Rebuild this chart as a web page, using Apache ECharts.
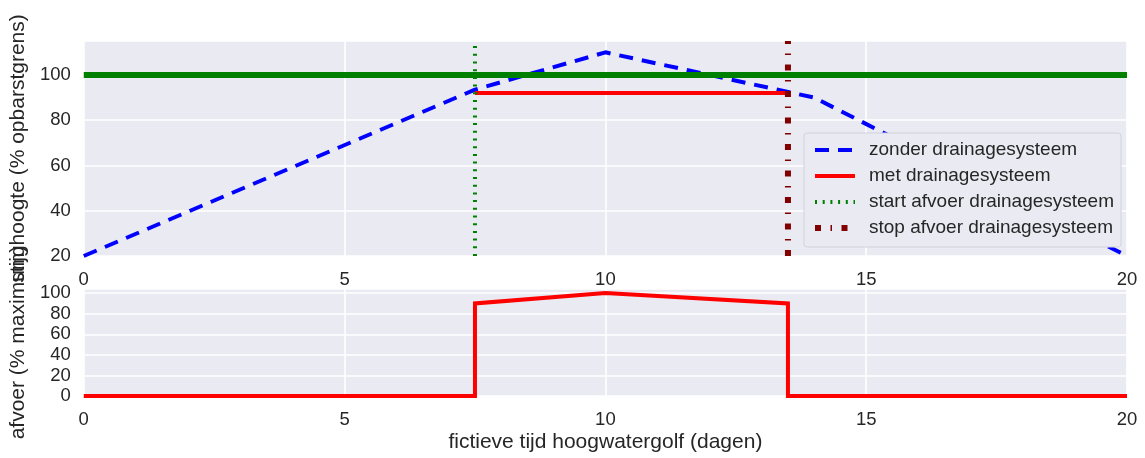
<!DOCTYPE html>
<html>
<head>
<meta charset="utf-8">
<script src="https://cdn.jsdelivr.net/npm/echarts@6/dist/echarts.min.js"></script>
<style>
  html, body { margin: 0; padding: 0; background: #ffffff; }
  #chart { width: 1145px; height: 458px; }
</style>
</head>
<body>
<div id="chart"></div>
<script>
// ---- data ----
const xTicks = [0, 5, 10, 15, 20];
const zonderX = [0, 7.5, 10, 14, 20];
const zonderY = [20, 93.5, 110, 90, 20];
const metX = [7.5, 13.5];
const metY = [92, 92];
const grensX = [0, 20];
const grensY = [100, 100];
const startX = 7.5;
const stopX = 13.5;
const topYRange = [20, 115];
const afvoerX = [0, 7.5, 7.5, 10, 13.5, 13.5, 20];
const afvoerY = [0, 0, 90, 100, 90, 0, 0];

const legendNames = ['zonder drainagesysteem', 'met drainagesysteem', 'start afvoer drainagesysteem', 'stop afvoer drainagesysteem'];

function zip(xs, ys) { return xs.map((x, i) => [x, ys[i]]); }

const FONT = "'Liberation Sans', Arial, sans-serif";
const TXT = '#262626';
const BG = '#EAEAF2';

const chart = echarts.init(document.getElementById('chart'), null, { renderer: 'canvas' });

function xAxisCfg(idx, withName) {
  const a = {
    type: 'value', gridIndex: idx, min: xTicks[0], max: xTicks[xTicks.length - 1], interval: xTicks[1] - xTicks[0],
    axisLine: { show: false }, axisTick: { show: false },
    splitLine: { show: true, lineStyle: { color: '#ffffff', width: 1.6 } },
    axisLabel: { fontSize: 18.5, color: TXT, fontFamily: FONT, margin: 14 }
  };
  if (withName) {
    a.name = 'fictieve tijd hoogwatergolf (dagen)';
    a.nameLocation = 'middle';
    a.nameGap = 36;
    a.nameTextStyle = { fontSize: 21, color: TXT, fontFamily: FONT };
  }
  return a;
}

const legendLineWidths = [4, 4, 4, 6];

const option = {
  animation: false,
  backgroundColor: '#ffffff',
  textStyle: { fontFamily: FONT },
  grid: [
    { left: 83, right: 18, top: 41, height: 215, show: true, backgroundColor: BG, borderWidth: 0 },
    { left: 83, right: 18, top: 289, height: 107, show: true, backgroundColor: BG, borderWidth: 0 }
  ],
  xAxis: [xAxisCfg(0, false), xAxisCfg(1, true)],
  yAxis: [
    {
      type: 'value', gridIndex: 0, min: topYRange[0], max: topYRange[1], interval: 20,
      axisLine: { show: false }, axisTick: { show: false },
      splitLine: { show: true, lineStyle: { color: '#ffffff', width: 1.6 } },
      axisLabel: { fontSize: 18.5, color: TXT, fontFamily: FONT, margin: 13, showMaxLabel: false },
      name: 'stijghoogte (% opbarstgrens)', nameLocation: 'middle', nameGap: 51,
      nameTextStyle: { fontSize: 21, color: TXT, fontFamily: FONT }
    },
    {
      type: 'value', gridIndex: 1, min: 0, max: 104, interval: 20,
      axisLine: { show: false }, axisTick: { show: false },
      splitLine: { show: true, lineStyle: { color: '#ffffff', width: 1.6 } },
      axisLabel: { fontSize: 18.5, color: TXT, fontFamily: FONT, margin: 13, showMaxLabel: false },
      name: 'afvoer (% maximum)', nameLocation: 'middle', nameGap: 51,
      nameTextStyle: { fontSize: 21, color: TXT, fontFamily: FONT }
    }
  ],
  legend: {
    data: legendNames.map((n, i) => ({ name: n, itemStyle: { opacity: 0 }, lineStyle: { width: legendLineWidths[i] } })),
    orient: 'vertical',
    left: 804, top: 133,
    itemWidth: 40, itemHeight: 14, itemGap: 4,
    padding: [6, 7, 8, 8],
    backgroundColor: BG,
    borderColor: '#d2d2da', borderWidth: 1, borderRadius: 3,
    textStyle: { fontSize: 19, color: TXT, fontFamily: FONT, lineHeight: 22, padding: [0, 0, 0, 9] },
    selectedMode: false
  },
  series: [
    {
      name: legendNames[0], type: 'line', xAxisIndex: 0, yAxisIndex: 0, symbol: 'none', z: 2,
      data: zip(zonderX, zonderY), color: '#0000ff',
      lineStyle: { color: '#0000ff', width: 4, type: [14, 9], cap: 'butt' }
    },
    {
      name: legendNames[1], type: 'line', xAxisIndex: 0, yAxisIndex: 0, symbol: 'none', z: 3,
      data: zip(metX, metY), color: '#ff0000',
      lineStyle: { color: '#ff0000', width: 4 }
    },
    {
      name: 'opbarstgrens', type: 'line', xAxisIndex: 0, yAxisIndex: 0, symbol: 'none', z: 4,
      data: zip(grensX, grensY), color: '#008000',
      lineStyle: { color: '#008000', width: 6 }
    },
    {
      name: legendNames[2], type: 'line', xAxisIndex: 0, yAxisIndex: 0, symbol: 'none', z: 5,
      data: zip([startX, startX], topYRange), color: '#008000',
      lineStyle: { color: '#008000', width: 4, type: [2, 5.7], cap: 'butt' }
    },
    {
      name: legendNames[3], type: 'line', xAxisIndex: 0, yAxisIndex: 0, symbol: 'none', z: 6,
      data: zip([stopX, stopX], topYRange), color: '#800000',
      lineStyle: { color: '#800000', width: 6, type: [6, 9.5, 1.5, 9.5], cap: 'butt' }
    },
    {
      name: 'afvoer', type: 'line', xAxisIndex: 1, yAxisIndex: 1, symbol: 'none', z: 3,
      data: zip(afvoerX, afvoerY), color: '#ff0000',
      lineStyle: { color: '#ff0000', width: 4, join: 'miter' }
    }
  ]
};

chart.setOption(option);
</script>
</body>
</html>
